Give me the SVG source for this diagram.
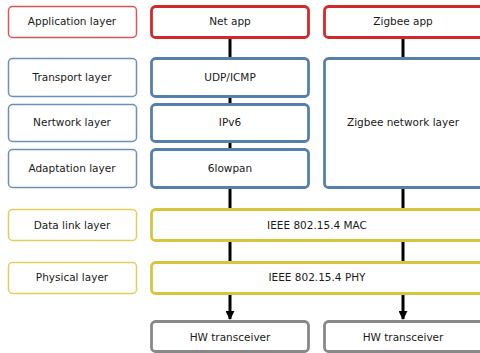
<svg xmlns="http://www.w3.org/2000/svg" width="480" height="353" viewBox="0 0 480 353">
<style>
text{font-family:"DejaVu Sans","Noto Sans",sans-serif;font-size:10.5px;fill:#1a1a1a;text-anchor:middle}
.lab{fill:#fff;stroke-width:1.5}
.box{fill:#fff;stroke-width:2.8}
.r{stroke:#d22a2a}
.rl{stroke:#dd5555}
.b{stroke:#5580ad}
.bl{stroke:#6a91ba}
.y{stroke:#d9c43e}
.yl{stroke:#e0cf5e}
.g{stroke:#888}
.c{stroke:#000;stroke-width:3;fill:none}
</style>
<defs>
<marker id="ah" viewBox="0 0 10 10" refX="9" refY="5" markerWidth="3" markerHeight="3" orient="auto" markerUnits="strokeWidth">
<path d="M0,0 L10,5 L0,10 z" fill="#000"/>
</marker>
</defs>
<g id="connectors">
<line class="c" x1="230" y1="37" x2="230" y2="58"/>
<line class="c" x1="230" y1="96" x2="230" y2="104"/>
<line class="c" x1="230" y1="141" x2="230" y2="149"/>
<line class="c" x1="230" y1="187" x2="230" y2="209"/>
<line class="c" x1="230" y1="240" x2="230" y2="262"/>
<line class="c" x1="230" y1="293" x2="230" y2="319" marker-end="url(#ah)"/>
<line class="c" x1="403" y1="37" x2="403" y2="58"/>
<line class="c" x1="403" y1="187" x2="403" y2="209"/>
<line class="c" x1="403" y1="240" x2="403" y2="262"/>
<line class="c" x1="403" y1="293" x2="403" y2="319" marker-end="url(#ah)"/>
</g>
<g id="lbl-app"><rect class="lab rl" x="8.5" y="6.5" width="128" height="31" rx="4"/><text x="72" y="25">Application layer</text></g>
<g id="lbl-transport"><rect class="lab bl" x="8.5" y="58.5" width="128" height="38" rx="4"/><text x="72" y="81">Transport layer</text></g>
<g id="lbl-network"><rect class="lab bl" x="8.5" y="104.5" width="128" height="37" rx="4"/><text x="72" y="126">Nertwork layer</text></g>
<g id="lbl-adapt"><rect class="lab bl" x="8.5" y="149.5" width="128" height="38" rx="4"/><text x="72" y="172">Adaptation layer</text></g>
<g id="lbl-datalink"><rect class="lab yl" x="8.5" y="209.5" width="128" height="31" rx="4"/><text x="72" y="229">Data link layer</text></g>
<g id="lbl-phys"><rect class="lab yl" x="8.5" y="262.5" width="128" height="31" rx="4"/><text x="72" y="281">Physical layer</text></g>
<g id="netapp"><rect class="box r" x="151.5" y="6.5" width="157" height="31" rx="4"/><text x="230" y="25">Net app</text></g>
<g id="zigbeeapp"><rect class="box r" x="324.5" y="6.5" width="170" height="31" rx="4"/><text x="403" y="25">Zigbee app</text></g>
<g id="udp"><rect class="box b" x="151.5" y="58.5" width="157" height="38" rx="4"/><text x="230" y="81">UDP/ICMP</text></g>
<g id="ipv6"><rect class="box b" x="151.5" y="104.5" width="157" height="37" rx="4"/><text x="230" y="126">IPv6</text></g>
<g id="lowpan"><rect class="box b" x="151.5" y="149.5" width="157" height="38" rx="4"/><text x="230" y="172">6lowpan</text></g>
<g id="zigbeenet"><rect class="box b" x="324.5" y="58.5" width="170" height="129" rx="4"/><text x="403" y="126">Zigbee network layer</text></g>
<g id="mac"><rect class="box y" x="151.5" y="209.5" width="340" height="31" rx="4"/><text x="317" y="229">IEEE 802.15.4 MAC</text></g>
<g id="phy"><rect class="box y" x="151.5" y="262.5" width="340" height="31" rx="4"/><text x="317" y="281">IEEE 802.15.4 PHY</text></g>
<g id="hw1"><rect class="box g" x="151.5" y="321.5" width="157" height="30" rx="4"/><text x="230" y="341">HW transceiver</text></g>
<g id="hw2"><rect class="box g" x="324.5" y="321.5" width="170" height="30" rx="4"/><text x="403" y="341">HW transceiver</text></g>
</svg>
